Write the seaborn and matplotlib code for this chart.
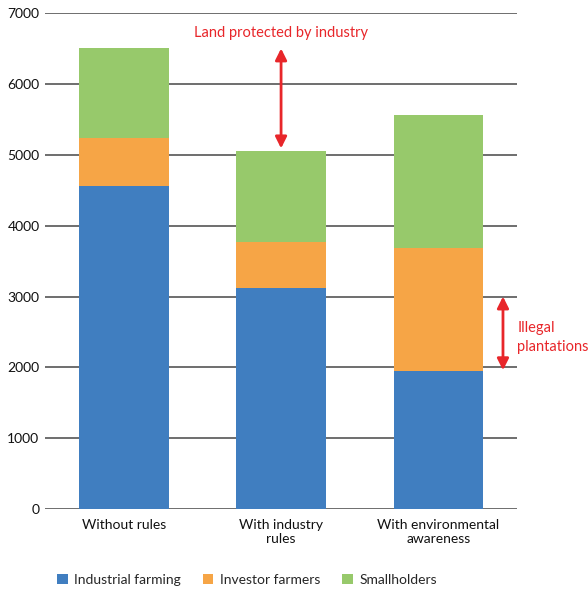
import pandas as pd
import matplotlib.pyplot as plt
import seaborn as sns
from matplotlib.patches import Patch

# Data
scenarios = ["Without rules", "With industry\nrules", "With environmental\nawareness"]
industrial = [4560, 3115, 1950]
investor = [680, 660, 1730]
smallholders = [1260, 1275, 1885]
series_names = ["Industrial farming", "Investor farmers", "Smallholders"]
colors = ["#407ec0", "#f6a546", "#97c96b"]

df = pd.DataFrame({
    "Scenario": scenarios,
    "Industrial farming": industrial,
    "Investor farmers": investor,
    "Smallholders": smallholders,
})
# cumulative tops so the stacks can be drawn as overlapping bars
df["top_ind"] = df["Industrial farming"]
df["top_inv"] = df["top_ind"] + df["Investor farmers"]
df["top_small"] = df["top_inv"] + df["Smallholders"]

sns.set_style("white")
plt.rcParams["font.family"] = ["Lato", "DejaVu Sans"]

fig = plt.figure(figsize=(5.88, 5.92), dpi=100)
ax = fig.add_axes([0.0765, 0.140, 0.803, 0.838])

for col, c in zip(["top_small", "top_inv", "top_ind"], colors[::-1]):
    sns.barplot(data=df, x="Scenario", y=col, color=c, width=0.57,
                saturation=1, errorbar=None, ax=ax, zorder=3, linewidth=0)

ax.set_ylim(0, 7000)
ax.set_xlim(-0.5, 2.5)
ax.set_yticks(range(0, 7001, 1000))
ax.yaxis.grid(True, color="#555555", lw=1.2, zorder=0)
ax.set_axisbelow(True)
for s in ax.spines.values():
    s.set_visible(False)
ax.tick_params(axis="both", length=0, colors="#111111")
ax.tick_params(axis="y", pad=4, labelsize=10)
ax.tick_params(axis="x", pad=7, labelsize=10)
ax.set_xlabel("")
ax.set_ylabel("")

red = "#e8262a"
arrow_style = dict(arrowstyle="<|-|>", color=red, lw=2,
                   mutation_scale=17, shrinkA=0, shrinkB=0)
# arrow: land protected by industry
ax.annotate("", xy=(1, df["top_small"][0]), xytext=(1, df["top_small"][1] + 40),
            arrowprops=arrow_style)
ax.text(1.0, 6720, "Land protected by industry", color=red, fontsize=10.5,
        ha="center", va="center")
# arrow: illegal plantations
ax.annotate("", xy=(2.41, 3000), xytext=(2.41, 1960),
            arrowprops=arrow_style, annotation_clip=False)
ax.text(2.5, 2420, "Illegal\nplantations", color=red, fontsize=10.5,
        ha="left", va="center", linespacing=1.45)

handles = [Patch(facecolor=c, edgecolor="none") for c in colors]
fig.legend(handles, series_names, loc="center", bbox_to_anchor=(0.42, 0.02),
           ncol=3, frameon=False, fontsize=10, handlelength=0.76,
           handleheight=0.76, columnspacing=1.6, handletextpad=0.45)

fig.savefig("out.png", dpi=100)
